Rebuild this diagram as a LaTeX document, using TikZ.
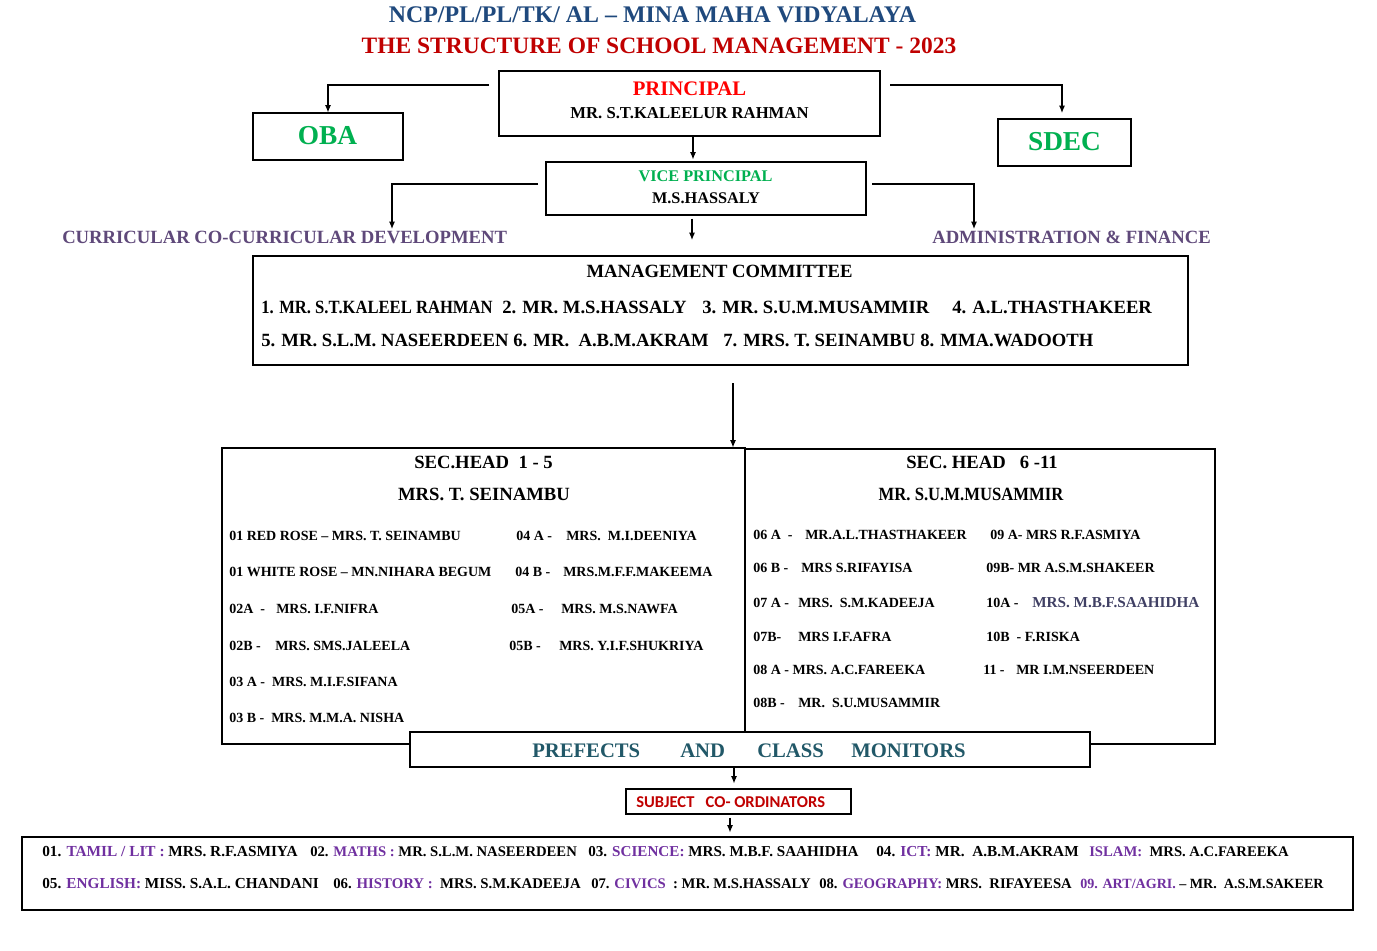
\documentclass[tikz,border=0pt]{standalone}
\usepackage{fontspec}
\usepackage{graphicx}
\setmainfont{Liberation Serif}
\newfontfamily\calib{Carlito}
\usetikzlibrary{arrows.meta,fit}
\definecolor{ttlblue}{RGB}{31,73,125}
\definecolor{dkred}{RGB}{192,0,0}
\definecolor{brred}{RGB}{255,0,0}
\definecolor{grn}{RGB}{0,176,80}
\definecolor{lblpurp}{RGB}{95,73,122}
\definecolor{prefteal}{RGB}{33,88,104}
\definecolor{subjpurp}{RGB}{112,48,160}
\definecolor{slatec}{RGB}{64,64,100}
\newcommand\bfz[1]{\fontsize{#1pt}{#1pt}\selectfont\bfseries}
\newcommand\spc[1]{\textcolor{subjpurp}{#1}}
\tikzset{
  box/.style={draw, line width=0.8pt, inner sep=0pt},
  lt/.style={inner sep=0pt, anchor=base west},
  ct/.style={inner sep=0pt, anchor=base},
  conn/.style={draw, line width=0.8pt, -{Latex[length=5.5pt,width=4.5pt]}},
  row/.style={lt, font=\bfz{10.5}},
  bot/.style={lt, font=\bfz{#1}},
  bot/.default=11,
  mg/.style={lt, font=\bfz{14}}
}
\begin{document}
\begin{tikzpicture}[x=0.75pt,y=-0.75pt]
\useasboundingbox[fill=white] (0,0) rectangle (1377,950);

% titles
\node[ct, font=\bfz{17.9}, text=ttlblue] (t1) at (652.5,22) {NCP/PL/PL/TK/ AL – MINA MAHA VIDYALAYA};
\node[ct, font=\bfz{17.6}, text=dkred] (t2) at (659,53) {THE STRUCTURE OF SCHOOL MANAGEMENT - 2023};

% principal
\node[box, fit={(499,71) (880,136)}] (principal) {};
\node[ct, font=\bfz{15.5}, text=brred] (ptitle) at (689.5,95) {PRINCIPAL};
\node[ct, font=\bfz{12.5}] (pname) at (689.5,118) {MR. S.T.KALEELUR RAHMAN};

% OBA, SDEC
\node[box, fit={(253,113) (403,160)}] (oba) {};
\node[ct, font=\bfz{20.5}, text=grn] (obat) at (327.5,144) {OBA};
\node[box, fit={(998,119) (1131,166)}] (sdec) {};
\node[ct, font=\bfz{20.5}, text=grn] (sdect) at (1064.5,150) {SDEC};

\coordinate (pL) at (489,85);
\coordinate (pR) at (890,85);
\coordinate (sdT) at (1062,113);
\draw[conn] (pL) -| (oba.north);
\draw[conn] (pR) -| (sdT);

% vice principal
\node[box, fit={(546,162) (866,215)}] (vp) {};
\node[ct, font=\bfz{12.2}, text=grn] (vpt) at (705.5,181.5) {VICE PRINCIPAL};
\node[ct, font=\bfz{12.2}] (vpn) at (706,203.5) {M.S.HASSALY};
\coordinate (x693) at (693,0);
\draw[conn, shorten >=1.5pt] (principal.south -| x693) -- (vp.north -| x693);

\coordinate (vL) at (538,184);
\coordinate (cdT) at (392,229);
\coordinate (vR) at (872,184);
\coordinate (afT) at (974,229);
\draw[conn] (vL) -| (cdT);
\draw[conn] (vR) -| (afT);
\coordinate (vBe) at (692,240);
\draw[conn, shorten <=2.25pt] (vp.south -| vBe) -- (vBe);

\node[lt, font=\bfz{14}, text=lblpurp] (curr) at (62,243) {CURRICULAR CO-CURRICULAR DEVELOPMENT};
\node[lt, font=\bfz{14}, text=lblpurp] (admin) at (932,243) {ADMINISTRATION \& FINANCE};

% management committee
\node[box, fit={(253,256) (1188,365)}] (mgmt) {};
\node[ct, font=\bfz{14}] (mgt) at (719.5,277) {MANAGEMENT COMMITTEE};
\node[mg] (m1) at (261,313) {\scalebox{0.89}[1]{1. MR. S.T.KALEEL RAHMAN}};
\node[mg] (m2) at (502,313) {2. MR. M.S.HASSALY};
\node[mg] (m3) at (702,313) {3. MR. S.U.M.MUSAMMIR};
\node[mg] (m4) at (952,313) {4. A.L.THASTHAKEER};
\node[mg] (m5) at (261,346) {5. MR. S.L.M. NASEERDEEN};
\node[mg] (m6) at (513,346) {6. MR.\ \ A.B.M.AKRAM};
\node[mg] (m7) at (723,346) {7. MRS. T. SEINAMBU};
\node[mg] (m8) at (920,346) {8. MMA.WADOOTH};

% sections
\node[box, fit={(222,448) (745,744)}] (secL) {};
\node[box, fit={(745,449) (1215,744)}] (secR) {};
\coordinate (mB) at (733,383);
\draw[conn] (mB) -- (mB |- secL.north);

\node[ct, font=\bfz{14}] (sl1) at (483.5,468) {SEC.HEAD\ \ 1 - 5};
\node[ct, font=\bfz{14}] (sl2) at (484,500) {MRS. T. SEINAMBU};
\node[row] (l1) at (229,540) {01 RED ROSE – MRS. T. SEINAMBU};
\node[row] (l2) at (229,576) {01 WHITE ROSE – MN.NIHARA BEGUM};
\node[row] (l3) at (229,613) {02A\ \ -};
\node[row] (l3n) at (276,613) {MRS. I.F.NIFRA};
\node[row] (l4) at (229,650) {02B -};
\node[row] (l4n) at (275,650) {MRS. SMS.JALEELA};
\node[row] (l5) at (229,686) {03 A -\ \ MRS. M.I.F.SIFANA};
\node[row] (l6) at (229,722) {03 B -\ \ MRS. M.M.A. NISHA};
\node[row] (r1) at (516,540) {04 A -};
\node[row] (r1n) at (566,540) {MRS.\ \ M.I.DEENIYA};
\node[row] (r2) at (515,576) {04 B -};
\node[row] (r2n) at (563,576) {MRS.M.F.F.MAKEEMA};
\node[row] (r3) at (511,613) {05A -};
\node[row] (r3n) at (561,613) {MRS. M.S.NAWFA};
\node[row] (r4) at (509,650) {05B -};
\node[row] (r4n) at (559,650) {MRS. Y.I.F.SHUKRIYA};

\node[ct, font=\bfz{14}] (sr1) at (982,468) {SEC. HEAD\ \ \ 6 -11};
\node[ct, font=\bfz{14}] (sr2) at (971,500) {\scalebox{0.893}[1]{MR. S.U.M.MUSAMMIR}};
\node[row] (a1) at (753,539) {06 A\ \ -};
\node[row] (a1n) at (805,539) {MR.A.L.THASTHAKEER};
\node[row] (a2) at (753,572) {06 B -};
\node[row] (a2n) at (801,572) {MRS S.RIFAYISA};
\node[row] (a3) at (753,607) {07 A -};
\node[row] (a3n) at (798,607) {MRS.\ \ S.M.KADEEJA};
\node[row] (a4) at (753,641) {07B-};
\node[row] (a4n) at (798,641) {MRS I.F.AFRA};
\node[row] (a5) at (753,674) {08 A - MRS. A.C.FAREEKA};
\node[row] (a6) at (753,707) {08B -};
\node[row] (a6n) at (798,707) {MR.\ \ S.U.MUSAMMIR};
\node[row] (b1) at (990,539) {09 A- MRS R.F.ASMIYA};
\node[row] (b2) at (986,572) {09B- MR A.S.M.SHAKEER};
\node[row] (b3) at (986,607) {10A -};
\node[lt, font=\bfz{11.4}, text=slatec] (b3n) at (1032,607) {MRS. M.B.F.SAAHIDHA};
\node[row] (b4) at (986,641) {10B\ \ - F.RISKA};
\node[row] (b5) at (983,674) {11 -};
\node[row] (b5n) at (1016,674) {MR I.M.NSEERDEEN};

% prefects
\node[box, fill=white, fit={(410,732) (1090,767)}] (pref) {};
\node[lt, font=\bfz{15.5}, text=prefteal] (pf1) at (532,757) {PREFECTS};
\node[lt, font=\bfz{15.5}, text=prefteal] (pf2) at (680,757) {AND};
\node[lt, font=\bfz{15.5}, text=prefteal] (pf3) at (757,757) {CLASS};
\node[lt, font=\bfz{15.5}, text=prefteal] (pf4) at (851,757) {MONITORS};

% subject coordinators
\node[box, fit={(626,789) (851,814)}] (subj) {};
\node[lt, font={\calib\fontsize{12.4pt}{13pt}\selectfont\bfseries}, text=dkred] (subjt) at (636,807.5) {SUBJECT\ \ \ CO- ORDINATORS};
\coordinate (x734) at (734,0);
\coordinate (x730) at (730,0);
\draw[conn, shorten >=3.75pt] (pref.south -| x734) -- (subj.north -| x734);

% bottom box
\node[box, fit={(22,837) (1353,910)}] (bottom) {};
\draw[conn, shorten <=2.25pt, shorten >=3pt] (subj.south -| x730) -- (bottom.north -| x730);
\node[bot=11.5] (c1) at (42,856) {01. \spc{TAMIL / LIT :} MRS. R.F.ASMIYA};
\node[bot=11] (c2) at (310,856) {02. \spc{MATHS :} MR. S.L.M. NASEERDEEN};
\node[bot=11.35] (c3) at (588,856) {03. \spc{SCIENCE:} MRS. M.B.F. SAAHIDHA};
\node[bot=11.45] (c4) at (876,856) {04. \spc{ICT:} MR.\ \ A.B.M.AKRAM};
\node[bot=11] (c5) at (1089,856) {\spc{ISLAM:}\ \ MRS. A.C.FAREEKA};
\node[bot=11.45] (c6) at (42,888) {05. \spc{ENGLISH:} MISS. S.A.L. CHANDANI};
\node[bot=11.1] (c7) at (333,888) {06. \spc{HISTORY :}\ \ MRS. S.M.KADEEJA};
\node[bot=11] (c8) at (591,888) {07. \spc{CIVICS}\ \ : MR. M.S.HASSALY};
\node[bot=11] (c9) at (819,888) {08. \spc{GEOGRAPHY:} MRS.\ \ RIFAYEESA};
\node[bot=10.55] (c10) at (1080,888) {\spc{09. ART/AGRI.} – MR.\ \ A.S.M.SAKEER};
\end{tikzpicture}
\end{document}
